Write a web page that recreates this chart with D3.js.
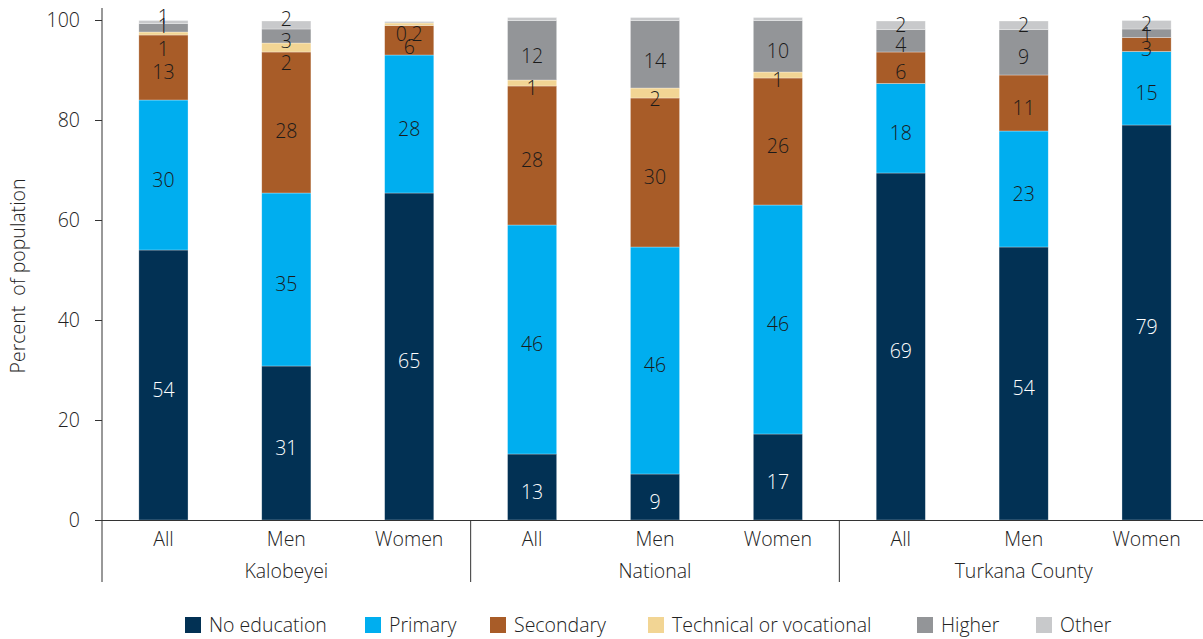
<!DOCTYPE html>
<html>
<head>
<meta charset="utf-8">
<script src="https://cdn.jsdelivr.net/npm/d3@7"></script>
<style>
  html, body { margin: 0; padding: 0; background: #fff; }
  svg { display: block; font-family: "Open Sans", Lato, sans-serif; }
</style>
</head>
<body>
<svg id="chart" width="1203" height="639"></svg>
<script>
// ---------- data ----------
const categories = ["All", "Men", "Women", "All", "Men", "Women", "All", "Men", "Women"];
const groups = ["Kalobeyei", "National", "Turkana County"];
const seriesNames = ["No education", "Primary", "Secondary", "Technical or vocational", "Higher", "Other"];

const noEducation = [54, 30.8, 65.4, 13.2, 9.2, 17.2, 69.4, 54.6, 79];
const primary     = [30, 34.6, 27.6, 45.8, 45.4, 45.8, 17.9, 23.2, 14.7];
const secondary   = [13, 28.2, 5.9, 27.8, 29.8, 25.4, 6.3, 11.2, 2.8];
const technical   = [0.6, 1.8, 0.5, 1.2, 2, 1.2, 0, 0, 0];
const higher      = [1.7, 2.8, 0, 11.9, 13.5, 10.3, 4.5, 9.1, 1.7];
const other       = [0.6, 1.6, 0.3, 0.6, 0.6, 0.6, 1.7, 1.7, 1.7];

const noEducationLabels = ["54", "31", "65", "13", "9", "17", "69", "54", "79"];
const primaryLabels     = ["30", "35", "28", "46", "46", "46", "18", "23", "15"];
const secondaryLabels   = ["13", "28", "6", "28", "30", "26", "6", "11", "3"];
const technicalLabels   = ["1", "2", "0.2", "1", "2", "1", "", "", ""];
const higherLabels      = ["1", "3", "", "12", "14", "10", "4", "9", "1"];
const otherLabels       = ["1", "2", "", "", "", "", "2", "2", "2"];

const yTicks = [0, 20, 40, 60, 80, 100];

// ---------- styling / layout (not data) ----------
const colors = ["#023154", "#00AEEF", "#A85C28", "#F2D594", "#939598", "#C8C9CB"];
const labelColors = ["#ffffff", "#1a1a1a", "#1a1a1a", "#1a1a1a", "#1a1a1a", "#1a1a1a"];
// manual pixel nudges of small-segment labels (like the hand-moved labels of the original)
const nudges = [
  [0,0,0,0,0,0,0,0,0],
  [0,0,0,0,0,0,0,0,0],
  [0,4,2,0,0,0,0,0,0],
  [11,11,5,0,1,0,0,0,0],
  [-6,0,0,1,2,0,0,0,-3],
  [-10,-11,0,0,0,0,-5,-5,-5]
];

const seriesValues = [noEducation, primary, secondary, technical, higher, other];
const seriesLabels = [noEducationLabels, primaryLabels, secondaryLabels, technicalLabels, higherLabels, otherLabels];

const svg = d3.select("#chart");
const W = 1203, H = 639;

const x = d3.scaleBand().domain(d3.range(categories.length)).range([102, 1208]).padding(0);
const y = d3.scaleLinear().domain([0, 100]).range([520, 20]);
const barW = x.bandwidth() * 0.4;

// stack
const rows = categories.map((c, i) => {
  const o = { idx: i };
  seriesNames.forEach((s, k) => { o[s] = seriesValues[k][i]; });
  return o;
});
const stacked = d3.stack().keys(seriesNames)(rows);

const font = "'Open Sans', Lato, sans-serif";
const FW = 300;
const FS = 19.5;

// bars
stacked.forEach((layer, k) => {
  svg.append("g").selectAll("rect")
    .data(layer)
    .join("rect")
    .attr("x", d => x(d.data.idx) + (x.bandwidth() - barW) / 2)
    .attr("width", barW)
    .attr("y", d => y(d[1]))
    .attr("height", d => Math.max(0, y(d[0]) - y(d[1])))
    .attr("fill", colors[k])
    .attr("stroke", "#ffffff")
    .attr("stroke-opacity", 0.5)
    .attr("stroke-width", 0.6);
});

// labels
stacked.forEach((layer, k) => {
  svg.append("g").selectAll("text")
    .data(layer)
    .join("text")
    .attr("x", d => x(d.data.idx) + x.bandwidth() / 2)
    .attr("y", (d, i) => (y(d[0]) + y(d[1])) / 2 + 4 + nudges[k][i])
    .attr("text-anchor", "middle")
    .attr("dominant-baseline", "central")
    .attr("font-size", FS)
    .attr("font-weight", FW)
    .attr("fill", labelColors[k])
    .text((d, i) => seriesLabels[k][i]);
});

// y axis
const yAxis = d3.axisLeft(y).tickValues(yTicks).tickSize(7).tickPadding(15);
const gy = svg.append("g").attr("transform", "translate(102,0)").call(yAxis);
gy.select(".domain").remove();
gy.selectAll(".tick line").attr("stroke", "#333").attr("stroke-width", 1);
gy.selectAll(".tick text").attr("font-size", FS).attr("font-weight", FW).attr("fill", "#222").attr("font-family", font);
svg.append("line").attr("x1", 102).attr("x2", 102).attr("y1", 8).attr("y2", 582)
  .attr("stroke", "#333").attr("stroke-width", 1);

// x axis line
svg.append("line").attr("x1", 95).attr("x2", W).attr("y1", 520.5).attr("y2", 520.5)
  .attr("stroke", "#333").attr("stroke-width", 1.2);

// category labels
svg.append("g").selectAll("text")
  .data(categories)
  .join("text")
  .attr("x", (d, i) => x(i) + x.bandwidth() / 2)
  .attr("y", 546)
  .attr("text-anchor", "middle")
  .attr("font-size", FS)
  .attr("font-weight", FW)
  .attr("fill", "#222")
  .text(d => d);

// group separators & labels
const per = categories.length / groups.length;
groups.forEach((g, gi) => {
  const x0 = x(gi * per);
  const x1 = gi * per + per < categories.length ? x(gi * per + per) : x.range()[1];
  if (gi > 0) {
    svg.append("line").attr("x1", x0).attr("x2", x0).attr("y1", 520).attr("y2", 582)
      .attr("stroke", "#333").attr("stroke-width", 1);
  }
  svg.append("text")
    .attr("x", (x0 + x1) / 2)
    .attr("y", 578)
    .attr("text-anchor", "middle")
    .attr("font-size", FS)
    .attr("font-weight", FW)
    .attr("fill", "#222")
    .text(g);
});

// y title
svg.append("text")
  .attr("transform", "translate(25,276) rotate(-90)")
  .attr("text-anchor", "middle")
  .attr("font-size", FS)
  .attr("font-weight", FW)
  .attr("fill", "#222")
  .attr("xml:space", "preserve")
  .style("white-space", "pre")
  .text("Percent  of population");

// legend
const legendX = [185, 365, 490, 648, 917, 1036];
const lg = svg.append("g");
seriesNames.forEach((s, k) => {
  lg.append("rect").attr("x", legendX[k]).attr("y", 617).attr("width", 16).attr("height", 16).attr("fill", colors[k]);
  lg.append("text").attr("x", legendX[k] + 24).attr("y", 632)
    .attr("font-size", FS).attr("font-weight", FW).attr("fill", "#222").text(s);
});
</script>
</body>
</html>
